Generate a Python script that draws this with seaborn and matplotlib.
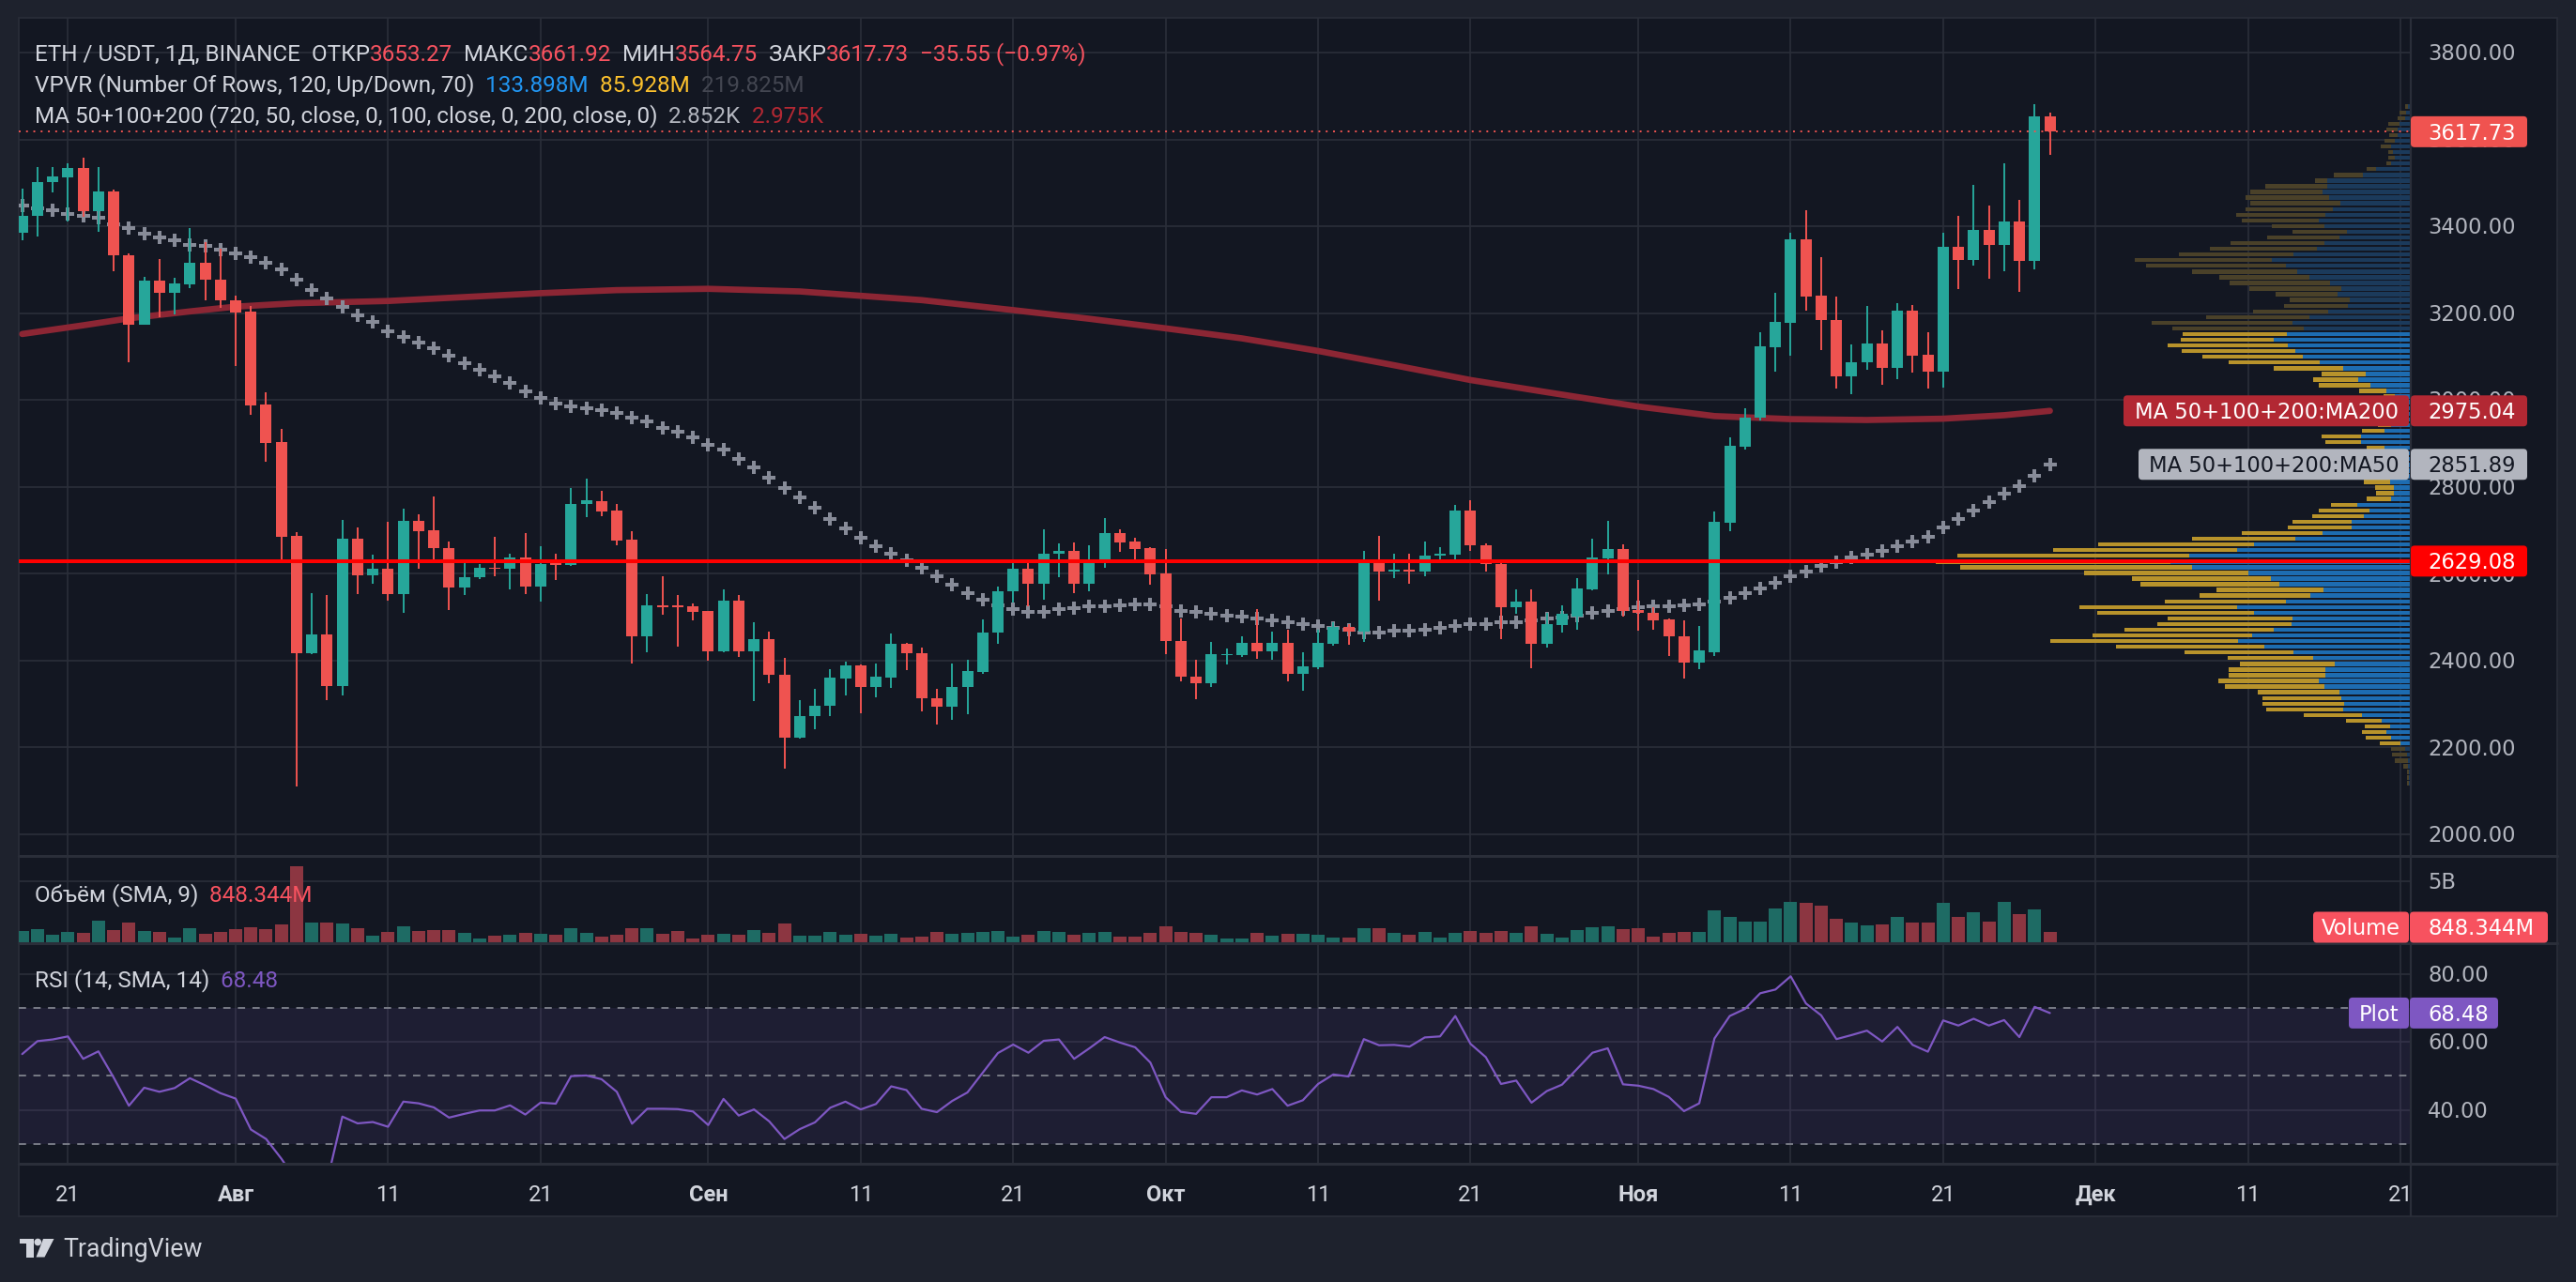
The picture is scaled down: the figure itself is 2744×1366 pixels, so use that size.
import numpy as np
import pandas as pd
import matplotlib
matplotlib.use("Agg")
import matplotlib.pyplot as plt
import matplotlib.dates as mdates
from matplotlib.patches import FancyBboxPatch, Polygon, Circle, Rectangle
import seaborn as sns

# ETH / USDT daily candles (Binance)
dates = pd.date_range("2024-07-18", "2024-11-28", freq="D")

opens = [3385, 3423, 3501, 3513, 3534, 3435, 3480, 3334, 3174, 3274, 3246, 3267, 3317, 3278,
         3230, 3204, 2989, 2903, 2687, 2416, 2461, 2342, 2681, 2596, 2611, 2553, 2722, 2701, 2660, 2568,
         2591, 2614, 2611, 2637, 2570, 2625, 2621, 2760, 2768, 2746, 2679, 2456, 2528, 2527, 2525,
         2514, 2422, 2537, 2422, 2450, 2368, 2222, 2273, 2296, 2358, 2388, 2339, 2361, 2438, 2418,
         2314, 2294, 2340, 2373, 2465, 2559, 2612, 2578, 2646, 2653, 2578, 2630, 2694, 2675, 2658,
         2601, 2446, 2364, 2348, 2412, 2412, 2440, 2421, 2440, 2369, 2384, 2438, 2477, 2466, 2624,
         2606, 2609, 2604, 2641, 2645, 2746, 2666, 2623, 2523, 2535, 2438, 2481, 2502, 2565, 2636, 2657,
         2517, 2511, 2494, 2457, 2395, 2419, 2718, 2892, 2959, 3122, 3178, 3370, 3241, 3184, 3055,
         3086, 3131, 3073, 3206, 3104, 3066, 3352, 3322, 3391, 3357, 3411, 3320, 3653.27]
highs = [3486, 3537, 3536, 3546, 3559, 3537, 3484, 3338, 3284, 3325, 3282, 3395, 3364, 3349,
         3241, 3217, 3018, 2933, 2696, 2556, 2550, 2724, 2706, 2645, 2720, 2750, 2737, 2778, 2675, 2624,
         2623, 2686, 2647, 2694, 2664, 2646, 2797, 2820, 2791, 2760, 2697, 2554, 2595, 2552, 2532,
         2515, 2565, 2552, 2489, 2466, 2407, 2310, 2334, 2381, 2398, 2392, 2393, 2463, 2440, 2429,
         2334, 2393, 2402, 2494, 2571, 2624, 2624, 2703, 2670, 2673, 2666, 2729, 2703, 2683, 2662,
         2657, 2498, 2403, 2442, 2427, 2457, 2519, 2466, 2472, 2420, 2471, 2489, 2485, 2653, 2688,
         2647, 2647, 2675, 2662, 2758, 2769, 2670, 2626, 2563, 2565, 2509, 2528, 2589, 2681, 2722, 2668,
         2586, 2524, 2496, 2492, 2479, 2743, 2913, 2980, 3155, 3247, 3385, 3438, 3328, 3238, 3128,
         3217, 3161, 3224, 3219, 3156, 3385, 3424, 3495, 3448, 3544, 3461, 3682, 3661.92]
lows = [3367, 3376, 3479, 3412, 3421, 3388, 3297, 3087, 3173, 3190, 3197, 3257, 3230, 3212,
        3079, 2966, 2858, 2630, 2111, 2414, 2309, 2319, 2553, 2577, 2539, 2510, 2612, 2632, 2516, 2552,
        2587, 2594, 2563, 2554, 2535, 2586, 2618, 2731, 2733, 2666, 2394, 2419, 2505, 2432, 2492,
        2399, 2420, 2409, 2307, 2348, 2152, 2220, 2242, 2273, 2320, 2279, 2315, 2337, 2378, 2283,
        2253, 2263, 2276, 2370, 2438, 2533, 2525, 2540, 2591, 2555, 2559, 2614, 2650, 2632, 2574,
        2415, 2352, 2311, 2339, 2391, 2408, 2404, 2401, 2352, 2330, 2380, 2434, 2437, 2442, 2537,
        2589, 2576, 2595, 2632, 2634, 2653, 2606, 2449, 2507, 2382, 2429, 2464, 2472, 2561, 2599, 2502,
        2468, 2470, 2410, 2358, 2380, 2410, 2698, 2885, 2952, 3066, 3103, 3206, 3115, 3027, 3013,
        3070, 3034, 3049, 3064, 3027, 3029, 3255, 3310, 3279, 3297, 3249, 3301, 3564.75]
closes = [3423, 3502, 3515, 3534, 3435, 3480, 3333, 3173, 3274, 3246, 3269, 3317, 3277, 3229,
          3202, 2988, 2902, 2686, 2416, 2461, 2342, 2681, 2596, 2611, 2553, 2722, 2699, 2659, 2568, 2593,
          2614, 2612, 2637, 2570, 2623, 2621, 2761, 2769, 2744, 2677, 2456, 2528, 2524, 2524, 2512,
          2422, 2537, 2422, 2450, 2367, 2222, 2273, 2297, 2360, 2388, 2339, 2362, 2438, 2417, 2313,
          2294, 2340, 2375, 2465, 2560, 2612, 2578, 2647, 2653, 2578, 2630, 2694, 2673, 2657, 2599,
          2445, 2363, 2348, 2414, 2415, 2440, 2421, 2440, 2369, 2386, 2440, 2478, 2466, 2624, 2604,
          2609, 2606, 2642, 2647, 2746, 2665, 2622, 2523, 2535, 2438, 2483, 2507, 2567, 2638, 2657, 2515,
          2509, 2492, 2455, 2395, 2423, 2719, 2894, 2960, 3124, 3180, 3370, 3238, 3184, 3055, 3087,
          3131, 3073, 3206, 3103, 3066, 3352, 3322, 3391, 3357, 3411, 3320, 3653.27, 3617.73]

# daily volume, millions USDT
volume_m = [923, 1077, 615, 846, 769, 1769, 1000, 1615, 923, 846, 385, 1154, 692, 846,
            1077, 1231, 1077, 1461, 6256, 1615, 1615, 1538, 1154, 538, 846, 1308, 923, 1000, 1000, 769,
            308, 538, 615, 769, 692, 615, 1154, 769, 462, 615, 1154, 1154, 692, 923, 308,
            615, 692, 615, 1000, 769, 1538, 538, 538, 846, 615, 692, 538, 692, 385, 462,
            846, 692, 769, 846, 923, 462, 615, 923, 846, 615, 769, 846, 462, 462, 769,
            1308, 846, 769, 615, 308, 308, 769, 538, 692, 692, 615, 385, 385, 1154, 1154,
            769, 615, 846, 385, 769, 923, 769, 923, 769, 1308, 692, 385, 1000, 1231, 1308, 1077,
            1154, 462, 769, 846, 846, 2615, 2077, 1692, 1692, 2769, 3308, 3231, 3000, 1923, 1615,
            1385, 1461, 2077, 1615, 1615, 3231, 2077, 2462, 1692, 3308, 2308, 2692, 848]

ma50 = [3447, 3442, 3436, 3429, 3423, 3419, 3405, 3395, 3384, 3375, 3367, 3357, 3354, 3346,
        3338, 3330, 3317, 3300, 3277, 3254, 3234, 3214, 3196, 3179, 3159, 3145, 3132, 3119, 3103, 3084,
        3070, 3054, 3039, 3020, 3005, 2992, 2985, 2981, 2976, 2970, 2960, 2950, 2936, 2926, 2913,
        2897, 2885, 2864, 2844, 2822, 2798, 2775, 2751, 2727, 2705, 2682, 2663, 2647, 2632, 2613,
        2594, 2574, 2555, 2540, 2528, 2519, 2513, 2512, 2518, 2520, 2525, 2525, 2527, 2530, 2530,
        2525, 2515, 2512, 2507, 2503, 2501, 2496, 2492, 2488, 2484, 2480, 2476, 2471, 2464, 2464,
        2469, 2469, 2471, 2475, 2479, 2483, 2485, 2488, 2488, 2492, 2496, 2500, 2503, 2511, 2515, 2518,
        2522, 2526, 2525, 2527, 2529, 2536, 2545, 2556, 2567, 2580, 2594, 2606, 2617, 2626, 2637,
        2644, 2653, 2664, 2674, 2685, 2707, 2726, 2746, 2764, 2784, 2801, 2826, 2851.89]

ma200_dates = ["2024-07-18", "2024-07-22", "2024-07-25", "2024-07-29", "2024-08-01", "2024-08-05",
               "2024-08-11", "2024-08-16", "2024-08-21", "2024-08-26", "2024-09-01", "2024-09-07",
               "2024-09-15", "2024-09-21", "2024-09-26", "2024-10-01", "2024-10-06", "2024-10-11",
               "2024-10-16", "2024-10-21", "2024-10-26", "2024-11-01", "2024-11-06", "2024-11-11",
               "2024-11-16", "2024-11-21", "2024-11-25", "2024-11-28"]
ma200 = [3152, 3172, 3188, 3204, 3215, 3223, 3228, 3237, 3246, 3253, 3256, 3250, 3230, 3207,
         3187, 3165, 3142, 3113, 3080, 3046, 3018, 2985, 2963, 2956, 2954, 2957, 2965, 2975.04]

rsi = [56.4, 60.2, 60.7, 61.6, 55.0, 57.2, 49.5, 41.2, 46.5, 45.3, 46.4, 49.3, 47.2, 44.9,
       43.3, 34.2, 31.4, 25.6, 19.0, 21.0, 19.0, 38.0, 36.0, 36.4, 35.0, 42.4, 41.9, 40.7, 37.7, 38.8,
       39.8, 39.8, 41.3, 38.6, 42.1, 41.8, 49.9, 50.1, 49.0, 45.3, 35.9, 40.3, 40.3, 40.2, 39.5,
       35.5, 43.2, 38.3, 40.1, 36.6, 31.4, 34.3, 36.3, 40.6, 42.4, 40.1, 41.7, 46.9, 45.8, 40.3,
       39.3, 42.6, 45.1, 50.9, 56.7, 59.2, 56.8, 60.3, 60.7, 55.0, 58.1, 61.4, 59.8, 58.4, 53.9,
       43.7, 39.4, 38.8, 43.7, 43.7, 45.7, 44.5, 46.1, 41.2, 42.8, 47.6, 50.4, 49.8, 60.8, 59.0,
       59.1, 58.6, 61.3, 61.6, 67.6, 59.4, 55.5, 47.6, 48.6, 42.1, 45.5, 47.4, 52.1, 56.8, 58.1, 47.5,
       47.1, 46.1, 43.8, 39.6, 41.9, 61.0, 67.6, 69.7, 74.3, 75.4, 79.3, 71.3, 67.8, 60.8, 62.0,
       63.3, 60.1, 64.4, 59.1, 57.1, 66.3, 64.8, 66.8, 64.8, 66.4, 61.4, 70.3, 68.48]

# visible-range volume profile, 120 rows from the top, relative volume
vp_up = [8, 13, 16, 33, 38, 38, 48, 58, 53, 48, 58, 103, 143, 248, 248, 260, 243, 208, 230, 253,
         272, 255, 188, 212, 256, 277, 347, 411, 369, 336, 301, 238, 205, 216, 181, 186, 245, 300, 351, 318,
         366, 405, 365, 341, 319, 269, 199, 133, 155, 120, 72, 48, 68, 73, 68, 63, 58, 77, 146, 147,
         78, 68, 63, 63, 68, 68, 60, 50, 50, 58, 158, 122, 138, 175, 174, 261, 341, 465, 515, 655,
         713, 647, 481, 415, 389, 259, 297, 369, 514, 465, 350, 352, 405, 470, 511, 433, 347, 288, 224, 252,
         252, 272, 255, 211, 205, 197, 199, 144, 85, 60, 72, 58, 30, 16, 10, 8, 8, 6, 6, 6]
vp_down = [8, 20, 22, 35, 35, 25, 30, 30, 13, 18, 15, 27, 85, 35, 182, 214, 246, 266, 259, 265,
           228, 156, 163, 213, 279, 317, 339, 405, 414, 311, 265, 298, 272, 184, 177, 190, 221, 305, 416, 387,
           309, 275, 354, 337, 297, 270, 206, 130, 133, 152, 80, 32, 50, 55, 50, 45, 40, 67, 117, 105,
           53, 60, 55, 55, 60, 65, 78, 55, 52, 72, 77, 150, 153, 175, 190, 239, 306, 460, 544, 687,
           693, 687, 486, 410, 411, 316, 328, 359, 467, 463, 369, 398, 442, 472, 556, 439, 322, 255, 281, 288,
           287, 297, 295, 241, 235, 243, 228, 172, 106, 76, 72, 76, 61, 43, 46, 39, 13, 4, 4, 4]
vp_low, vp_high = 2111.0, 3682.0
value_area_rows = (40, 112)

date_ticks = ["2024-07-21", "2024-08-01", "2024-08-11", "2024-08-21", "2024-09-01", "2024-09-11",
              "2024-09-21", "2024-10-01", "2024-10-11", "2024-10-21", "2024-11-01", "2024-11-11",
              "2024-11-21", "2024-12-01", "2024-12-11", "2024-12-21"]
date_labels = ["21", "Авг", "11", "21", "Сен", "11", "21", "Окт", "11", "21", "Ноя", "11", "21",
               "Дек", "11", "21"]
price_ticks = [2000, 2200, 2400, 2600, 2800, 3000, 3200, 3400, 3600, 3800]
rsi_ticks = [40, 60, 80]
rsi_bands = [30, 50, 70]

# ---------------------------------------------------------------------------
sns.set_theme(style="dark")
plt.rcParams["font.family"] = ["Roboto", "DejaVu Sans"]
plt.rcParams["axes.unicode_minus"] = False

W, H = 2744, 1366
BG, FRAME, GRID = "#131722", "#1e222d", "#2a2e39"
UP, DOWN = "#26a69a", "#ef5350"
TXT, AXT = "#d1d4dc", "#b2b5be"
AXF = "DejaVu Sans"
AXS = 16.3

# pixel layout
X0, X1, XR = 20, 2568, 2724
P_TOP, P_BOT, V_BOT, R_BOT, T_BOT = 19, 912, 1005, 1240, 1296
PX_DAY = 16.24
day0 = mdates.date2num(pd.Timestamp("2024-08-01"))
XMIN = day0 - (251 - X0) / PX_DAY
XMAX = day0 + (X1 - 251) / PX_DAY
PPX = (889 - 56) / 1800.0                      # px per USDT
P_MAX = 3800 + (56 - P_TOP) / PPX
P_MIN = 2000 - (P_BOT - 889) / PPX
V_PX = 65 / 5000.0                             # px per M of volume (5B = 65 px)
V_MAX = (1004 - P_BOT) / V_PX
V_MIN = (1004 - V_BOT) / V_PX
R_PX = 3.62                                    # px per RSI point
R_MAX = 80 + (1037.7 - V_BOT) / R_PX
R_MIN = 30 - (R_BOT - 1218.7) / R_PX

fig = plt.figure(figsize=(W / 100, H / 100), dpi=100, facecolor=FRAME)

bg = fig.add_axes([0, 0, 1, 1], zorder=0)
bg.set_xlim(0, W)
bg.set_ylim(H, 0)
bg.axis("off")
bg.add_patch(Rectangle((X0, P_TOP), XR - X0, T_BOT - P_TOP, fc=BG, ec=GRID, lw=1.2))


def pane(y0, y1):
    a = fig.add_axes([X0 / W, 1 - y1 / H, (X1 - X0) / W, (y1 - y0) / H], zorder=1)
    a.patch.set_alpha(0)
    return a


def finish(a, ylo, yhi):
    a.set_xlim(XMIN, XMAX)
    a.set_ylim(ylo, yhi)
    a.set_xticks([])
    a.set_yticks([])
    a.set_xlabel("")
    a.set_ylabel("")
    a.grid(False)
    for s in a.spines.values():
        s.set_visible(False)


xn = mdates.date2num(dates.to_pydatetime())
tick_x = mdates.date2num(pd.to_datetime(date_ticks).to_pydatetime())
o, h, l, c = (np.array(v, dtype=float) for v in (opens, highs, lows, closes))
rising = c >= o
cols = np.where(rising, UP, DOWN)

# ---- price pane ----
ax = pane(P_TOP, P_BOT)
for tx in tick_x:
    ax.axvline(tx, color=GRID, lw=1.2, zorder=0)
for p in price_ticks:
    ax.axhline(p, color=GRID, lw=1.2, zorder=0)

# volume profile (drawn leftwards from the right edge)
n_rows = len(vp_up)
row_h = (vp_high - vp_low) / n_rows
centers = vp_high - (np.arange(n_rows) + 0.5) * row_h
in_va = (np.arange(n_rows) >= value_area_rows[0]) & (np.arange(n_rows) <= value_area_rows[1])
k = 1 / (2.78 * PX_DAY)
up_w = np.array(vp_up) * k
dn_w = np.array(vp_down) * k
ax.barh(centers, -up_w, left=XMAX, height=row_h * 0.72,
        color=np.where(in_va, "#1d6cb1", "#1b3a5b"), lw=0, zorder=1)
ax.barh(centers, -dn_w, left=XMAX - up_w, height=row_h * 0.72,
        color=np.where(in_va, "#b8932b", "#4a4129"), lw=0, zorder=1)

sns.lineplot(x=mdates.date2num(pd.to_datetime(ma200_dates).to_pydatetime()), y=ma200, ax=ax,
             color="#8c2634", lw=4.8, solid_capstyle="round", zorder=2)
sns.scatterplot(x=xn, y=ma50, ax=ax, marker="P", s=95, color="#878b98", linewidth=0,
                zorder=3, legend=False)

ax.vlines(xn, l, h, colors=cols, lw=1.4, zorder=4)
body = np.maximum(np.abs(c - o), 2.5)
ax.bar(xn, body, bottom=np.minimum(o, c), width=0.74, color=cols, lw=0, zorder=5)
ax.axhline(2629.08, color="#ff0000", lw=2.9, zorder=6)
ax.axhline(closes[-1], color=DOWN, lw=1.4, ls=(0, (1, 3)), zorder=6)
finish(ax, P_MIN, P_MAX)

# ---- volume pane ----
axv = pane(P_BOT, V_BOT)
for tx in tick_x:
    axv.axvline(tx, color=GRID, lw=1.2, zorder=0)
axv.axhline(5000, color=GRID, lw=1.2, zorder=0)
axv.bar(xn, volume_m, width=0.86, color=np.where(rising, "#1e6b64", "#8c3641"), lw=0, zorder=2)
finish(axv, V_MIN, V_MAX)

# ---- RSI pane ----
axr = pane(V_BOT, R_BOT)
for tx in tick_x:
    axr.axvline(tx, color=GRID, lw=1.2, zorder=0)
for t in rsi_ticks:
    axr.axhline(t, color=GRID, lw=1.2, zorder=0)
axr.axhspan(rsi_bands[0], rsi_bands[-1], color="#7e57c2", alpha=0.11, lw=0, zorder=1)
for b in rsi_bands:
    axr.axhline(b, color="#787b86", lw=1.4, ls=(0, (4, 4)), zorder=2)
sns.lineplot(x=xn, y=rsi, ax=axr, color="#7e57c2", lw=1.6, zorder=3)
finish(axr, R_MIN, R_MAX)

# ---- overlay in pixel coordinates: separators, scales, tags, legends ----
ov = fig.add_axes([0, 0, 1, 1], zorder=10)
ov.set_xlim(0, W)
ov.set_ylim(H, 0)
ov.axis("off")
ov.patch.set_alpha(0)

for y in (P_BOT, V_BOT, R_BOT):
    ov.plot([X0, XR], [y, y], color=GRID, lw=2.2)
ov.plot([X1, X1], [P_TOP, T_BOT], color=GRID, lw=1.6)


def py(p):
    return P_TOP + (P_MAX - p) * PPX


def ry(v):
    return V_BOT + (R_MAX - v) * R_PX


def dx(x):
    return X0 + (x - XMIN) * PX_DAY


def put(x, yc, s, size, color, ha="left", family=None, weight="normal", z=3):
    base = yc + 0.365 * size * 100 / 72
    return ov.text(x, base, s, fontsize=size, color=color, ha=ha, va="baseline", zorder=z,
                   family=family if family else plt.rcParams["font.family"], fontweight=weight)


def tag(x0, x1, yc, s, fc, tc, hgt=33, left_text=None):
    ov.add_patch(FancyBboxPatch((x0, yc - hgt / 2), x1 - x0, hgt, zorder=6,
                                boxstyle="round,pad=0,rounding_size=4", fc=fc, ec="none"))
    if left_text is None:
        put((x0 + x1) / 2, yc, s, AXS, tc, ha="center", family=AXF, z=7)
    else:
        put(left_text, yc, s, AXS, tc, family=AXF, z=7)


for p in price_ticks:
    put(2586, py(p), f"{p:.2f}", AXS, AXT, family=AXF)
put(2586, 939, "5B", AXS, AXT, family=AXF)
for t in rsi_ticks:
    put(2586, ry(t), f"{t:.2f}", AXS, AXT, family=AXF)

for tx, lab in zip(tick_x, date_labels):
    put(dx(tx), 1271, lab, 17, TXT, ha="center", weight="bold" if not lab.isdigit() else "normal")

tag(2568, 2692, py(closes[-1]), "3617.73", "#f05350", "white", left_text=2586)
tag(2262, 2566, py(ma200[-1]), "MA 50+100+200:MA200", "#b22833", "white")
tag(2568, 2692, py(ma200[-1]), "2975.04", "#b22833", "white", left_text=2586)
tag(2278, 2566, py(ma50[-1]), "MA 50+100+200:MA50", "#b2b5be", BG)
tag(2568, 2692, py(ma50[-1]), "2851.89", "#b2b5be", BG, left_text=2586)
tag(2568, 2692, py(2629.08), "2629.08", "#ff0000", "white", left_text=2586)
tag(2464, 2566, 988, "Volume", "#f7525f", "white")
tag(2567, 2714, 988, "848.344M", "#f7525f", "white", left_text=2586)
tag(2502, 2566, ry(rsi[-1]), "Plot", "#7e57c2", "white")
tag(2567, 2661, ry(rsi[-1]), "68.48", "#7e57c2", "white", left_text=2586)

renderer = fig.canvas.get_renderer()


def seg_line(x, yc, segs, size):
    arts = []
    for s, col in segs:
        t = put(x, yc, s, size, col)
        arts.append(t)
        x += t.get_window_extent(renderer).width
    return arts, x


RED = "#f7525f"
line1 = [("ETH / USDT, 1Д, BINANCE", TXT), ("  ОТКР", TXT), ("3653.27", RED), ("  МАКС", TXT),
         ("3661.92", RED), ("  МИН", TXT), ("3564.75", RED), ("  ЗАКР", TXT), ("3617.73", RED),
         ("  −35.55 (−0.97%)", RED)]
probe, x_end = seg_line(37, 56, line1, 17)
for t in probe:
    t.remove()
LS = 17 * (1158 - 37) / (x_end - 37)
seg_line(37, 56, line1, LS)
seg_line(37, 89, [("VPVR (Number Of Rows, 120, Up/Down, 70)", TXT), ("  133.898M", "#2196f3"),
                  ("  85.928M", "#fbc02d"), ("  219.825M", "#434651")], LS)
seg_line(37, 122, [("MA 50+100+200 (720, 50, close, 0, 100, close, 0, 200, close, 0)", TXT),
                   ("  2.852K", AXT), ("  2.975K", "#b22833")], LS)
seg_line(37, 952, [("Объём (SMA, 9)", TXT), ("  848.344M", RED)], LS)
seg_line(37, 1043, [("RSI (14, SMA, 14)", TXT), ("  68.48", "#7e57c2")], LS)

# TradingView mark
LOGO = "#d1d4dc"
ov.add_patch(Rectangle((21, 1320), 15, 4.5, fc=LOGO, ec="none"))
ov.add_patch(Rectangle((28, 1320), 8, 19.5, fc=LOGO, ec="none"))
ov.add_patch(Circle((40.3, 1323.5), 3.8, fc=LOGO, ec="none"))
ov.add_patch(Polygon([(46, 1320), (57.5, 1320), (47.5, 1339.5), (38.5, 1339.5)], closed=True,
                     fc=LOGO, ec="none"))
tv = put(67, 1330, "TradingView", 18, LOGO)
tv.set_fontsize(18 * 148 / tv.get_window_extent(renderer).width)

fig.savefig("out.png", dpi=100, facecolor=FRAME)
